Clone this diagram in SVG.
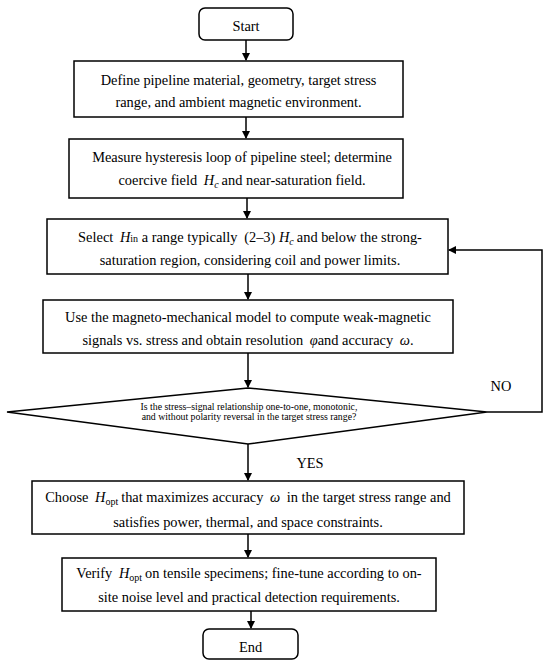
<svg xmlns="http://www.w3.org/2000/svg" width="550" height="665" viewBox="0 0 550 665">
<style>
.box{fill:#fff;stroke:#000;stroke-width:1.5}
.t{font-family:"Liberation Serif","Times New Roman",serif;font-size:14.4px;fill:#000;text-anchor:middle}
.s{font-family:"Liberation Serif","Times New Roman",serif;font-size:9.8px;fill:#000;text-anchor:middle}
.i{font-style:italic}
.sub{font-size:10px}
.ln{fill:none;stroke:#000;stroke-width:1.5}
</style>
<defs>
<marker id="ah" markerWidth="8" markerHeight="8" refX="7" refY="4" orient="auto" markerUnits="userSpaceOnUse">
<path d="M0,0 L8,4 L0,8 Z" fill="#000"/>
</marker>
</defs>
<rect width="550" height="665" fill="#fff"/>
<g id="connectors">
<line class="ln" x1="246" y1="40" x2="246" y2="60" marker-end="url(#ah)"/>
<line class="ln" x1="246" y1="117" x2="246" y2="138" marker-end="url(#ah)"/>
<line class="ln" x1="247" y1="198" x2="247" y2="218" marker-end="url(#ah)"/>
<line class="ln" x1="248" y1="274" x2="248" y2="299" marker-end="url(#ah)"/>
<line class="ln" x1="248" y1="353" x2="248" y2="387" marker-end="url(#ah)"/>
<line class="ln" x1="248" y1="444" x2="248" y2="480" marker-end="url(#ah)"/>
<line class="ln" x1="248" y1="534" x2="248" y2="557" marker-end="url(#ah)"/>
<line class="ln" x1="251" y1="611" x2="251" y2="628" marker-end="url(#ah)"/>
<polyline class="ln" points="487,412 542,412 542,250 449,250" marker-end="url(#ah)"/>
<text class="t" x="501" y="391">NO</text>
<text class="t" x="310" y="468">YES</text>
</g>
<g id="start">
<rect class="box" x="199" y="8" width="94" height="32" rx="6"/>
<text class="t" x="246" y="31">Start</text>
</g>
<g id="define">
<rect class="box" x="74" y="61" width="329" height="56"/>
<text class="t" x="238.5" y="85">Define pipeline material, geometry, target stress</text>
<text class="t" x="238.5" y="107">range, and ambient magnetic environment.</text>
</g>
<g id="measure">
<rect class="box" x="69" y="139" width="334" height="59"/>
<text class="t" x="242" y="162">Measure hysteresis loop of pipeline steel; determine</text>
<text class="t" x="242" y="185">coercive field <tspan class="i" dx="3">H</tspan><tspan class="i sub" dy="3">c</tspan><tspan dy="-3" dx="3">and near-saturation field.</tspan></text>
</g>
<g id="select">
<rect class="box" x="47" y="219" width="401" height="55"/>
<text class="t" x="250" y="242">Select <tspan class="i" dx="3">H</tspan><tspan class="sub">in</tspan> a range typically <tspan dx="3">(2–3)</tspan> <tspan class="i">H</tspan><tspan class="i sub" dy="3">c</tspan><tspan dy="-3" dx="3">and below the strong-</tspan></text>
<text class="t" x="250" y="265">saturation region, considering coil and power limits.</text>
</g>
<g id="model">
<rect class="box" x="43" y="300" width="410" height="53"/>
<text class="t" x="248" y="322">Use the magneto-mechanical model to compute weak-magnetic</text>
<text class="t" x="248" y="345">signals vs. stress and obtain resolution <tspan class="i" dx="3">φ</tspan>and accuracy <tspan class="i" dx="3">ω</tspan>.</text>
</g>
<g id="decision">
<polygon class="box" points="248,388 487,412 248,444 7,412"/>
<text class="s" x="249" y="410">Is the stress–signal relationship one-to-one, monotonic,</text>
<text class="s" x="249" y="420">and without polarity reversal in the target stress range?</text>
</g>
<g id="choose">
<rect class="box" x="32" y="481" width="432" height="53"/>
<text class="t" x="248" y="502">Choose <tspan class="i" dx="3">H</tspan><tspan class="sub" dy="3">opt</tspan><tspan dy="-3" dx="3">that maximizes accuracy</tspan> <tspan class="i" dx="3">ω</tspan> <tspan dx="3">in the target stress range and</tspan></text>
<text class="t" x="248" y="527">satisfies power, thermal, and space constraints.</text>
</g>
<g id="verify">
<rect class="box" x="62" y="558" width="374" height="53"/>
<text class="t" x="249" y="578">Verify <tspan class="i" dx="3">H</tspan><tspan class="sub" dy="3">opt</tspan><tspan dy="-3" dx="3">on tensile specimens; fine-tune according to on-</tspan></text>
<text class="t" x="249" y="602">site noise level and practical detection requirements.</text>
</g>
<g id="end">
<rect class="box" x="203" y="629" width="95" height="30" rx="6"/>
<text class="t" x="250.5" y="652">End</text>
</g>
</svg>
